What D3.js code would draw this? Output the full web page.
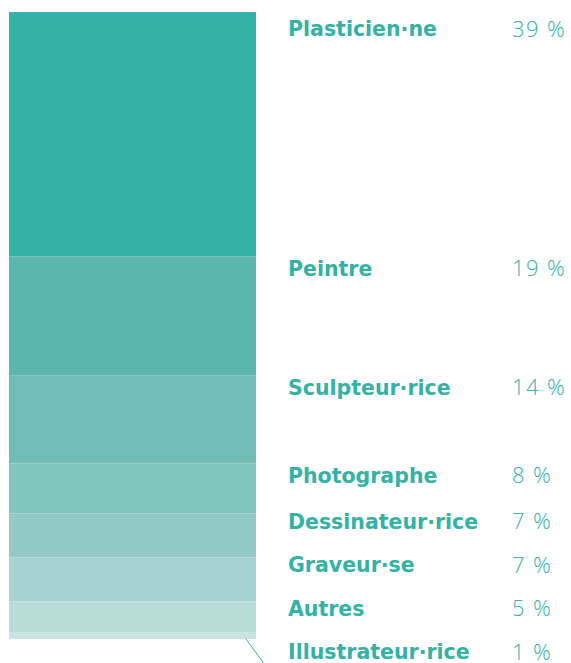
<!DOCTYPE html>
<html><head><meta charset="utf-8">
<script src="https://cdn.jsdelivr.net/npm/d3@7"></script>
<style>html,body{margin:0;padding:0;background:#fff;}svg{display:block;}</style>
</head><body>
<svg id="chart" width="571" height="663"></svg>
<script>
const categories = ["Plasticien·ne","Peintre","Sculpteur·rice","Photographe","Dessinateur·rice","Graveur·se","Autres","Illustrateur·rice"];
const values = [39,19,14,8,7,7,5,1];
const colors = ["#33b2a5","#5bb6ad","#70bdb5","#81c6bd","#93cbc4","#a6d3cf","#b8dcd8","#cae4e1"];
const textColor = "#33b2a5";

const W = 571, H = 663;
const barX0 = 9, barX1 = 256, barTop = 12, barBottom = 639;
const svg = d3.select("#chart");

const total = d3.sum(values);
const y = d3.scaleLinear().domain([0, total]).range([barTop, barBottom]);

let acc = 0;
const data = categories.map((c,i)=>{ const d={cat:c,val:values[i],start:acc,end:acc+values[i],color:colors[i]}; acc+=values[i]; return d; });

svg.selectAll("rect.seg").data(data).enter().append("rect")
  .attr("class","seg")
  .attr("x",barX0).attr("width",barX1-barX0)
  .attr("y",d=>y(d.start)).attr("height",d=>y(d.end)-y(d.start))
  .attr("fill",d=>d.color);

// leader line for smallest segment
svg.append("line")
  .attr("x1",barX1-10).attr("y1",y(total))
  .attr("x2",barX1+9).attr("y2",y(total)+26)
  .attr("stroke",textColor).attr("stroke-width",1);

// label layout: ideal near segment top, packed from the bottom
const gap = 43.5;
const ideal = data.map((d,i)=> i===0 ? y(d.start)+17 : y(d.start)+12);
const pos = ideal.slice();
pos[pos.length-1] = barBottom + 13;
for (let i=pos.length-2;i>=0;i--) pos[i] = Math.min(ideal[i], pos[i+1]-gap);

const g = svg.append("g");
g.selectAll("text.lab").data(data).enter().append("text")
  .attr("class","lab")
  .attr("x",288).attr("y",(d,i)=>pos[i])
  .attr("dy","0.35em")
  .attr("fill",textColor)
  .style("font-family","'DejaVu Sans', 'Open Sans', sans-serif")
  .style("font-weight","700")
  .style("font-size","20.5px")
  .text(d=>d.cat);

g.selectAll("text.pct").data(data).enter().append("text")
  .attr("class","pct")
  .attr("x",512).attr("y",(d,i)=>pos[i])
  .attr("dy","0.35em")
  .attr("fill",textColor)
  .style("font-family","'Open Sans', 'Lato', sans-serif")
  .style("font-weight","300")
  .style("font-size","22px")
  .style("letter-spacing","1.4px")
  .text(d=>d.val+" %");
</script>
</body></html>
